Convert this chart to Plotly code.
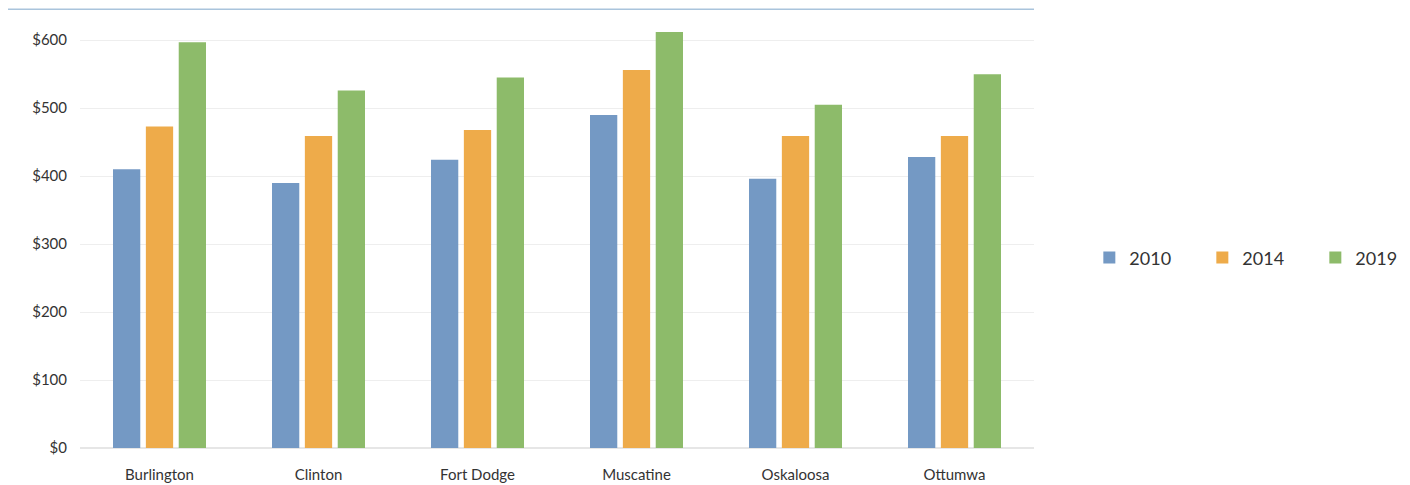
import plotly.graph_objects as go

cities = ["Burlington", "Clinton", "Fort Dodge", "Muscatine", "Oskaloosa", "Ottumwa"]
years = ["2010", "2014", "2019"]
v2010 = [410, 390, 424, 490, 396, 428]
v2014 = [473, 459, 468, 556, 459, 459]
v2019 = [597, 526, 545, 612, 505, 550]
colors = ["#7499c4", "#eeab4a", "#8dbb6a"]
tick_vals = [0, 100, 200, 300, 400, 500, 600]
tick_text = ["$0", "$100", "$200", "$300", "$400", "$500", "$600"]

fig = go.Figure()
for name, vals, c in zip(years, [v2010, v2014, v2019], colors):
    fig.add_trace(go.Bar(x=cities, y=vals, name=name, marker=dict(color=c, line=dict(width=0))))

fig.update_layout(
    width=1410, height=485,
    margin=dict(l=72, r=384, t=5, b=45, autoexpand=False),
    paper_bgcolor="white", plot_bgcolor="white",
    barmode="group", bargap=0.38, bargroupgap=0.17,
    font=dict(family="Lato, Open Sans, sans-serif", color="#333333", size=15),
    legend=dict(orientation="h", x=1.058, y=0.437, xanchor="left", yanchor="middle",
                font=dict(size=18, color="#333333"),
                entrywidth=68, entrywidthmode="pixels", itemwidth=30),
    showlegend=True,
)
fig.update_xaxes(showgrid=False, showline=False, zeroline=False,
                 ticks="", ticklabelstandoff=16, tickfont=dict(size=15, color="#333333"))
fig.update_yaxes(range=[0, 640], tickvals=tick_vals, ticktext=tick_text,
                 showgrid=True, gridcolor="#eeeeee", gridwidth=1,
                 zeroline=True, zerolinecolor="#e6e6e6", showline=False,
                 ticks="", ticklabelstandoff=12, tickfont=dict(size=15, color="#333333"))
fig.add_shape(type="line", xref="paper", yref="paper", x0=-0.084, x1=1.0, y0=1.0085, y1=1.0085,
              line=dict(color="#a9c4dc", width=1.5))

fig.write_html("out.html")
